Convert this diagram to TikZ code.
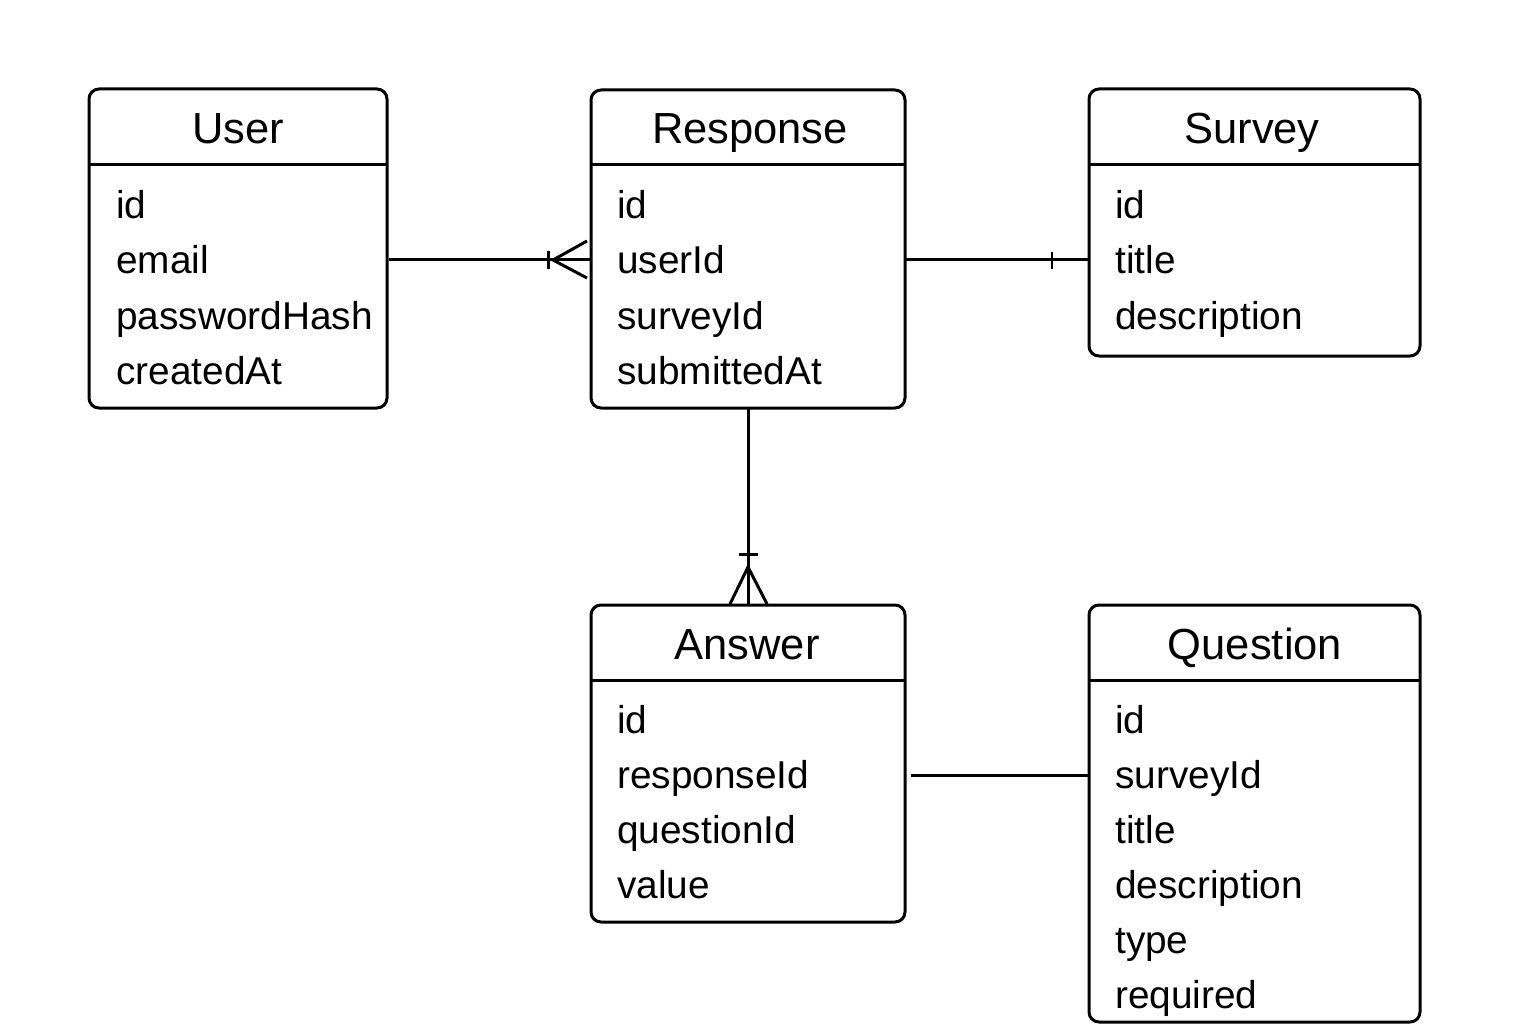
\documentclass[tikz,border=0pt]{standalone}
\usepackage{fontspec}
\setmainfont{Liberation Sans}
\begin{document}
\begin{tikzpicture}[x=1pt,y=-1pt,
  ent/.style={draw=black,line width=3pt,rounded corners=10pt},
  ttl/.style={anchor=base,font=\fontsize{43.5}{48}\selectfont,inner sep=0pt},
  attr/.style={anchor=base west,font=\fontsize{38.8}{44}\selectfont,inner sep=0pt},
  conn/.style={line width=3pt}]
\useasboundingbox (0,0) rectangle (1536,1024);
% boxes
\draw[ent] (89,89) rectangle (387,408); \draw[line width=3pt] (89,165) -- (387,165);
\draw[ent] (591,90) rectangle (905,408); \draw[line width=3pt] (591,165) -- (905,165);
\draw[ent] (1089,89) rectangle (1420,356); \draw[line width=3pt] (1089,165) -- (1420,165);
\draw[ent] (591,605) rectangle (905,922); \draw[line width=3pt] (591,680) -- (905,680);
\draw[ent] (1089,605) rectangle (1420,1022); \draw[line width=3pt] (1089,680) -- (1420,680);
% titles
\node[ttl] (tU) at (238,144) {User};
\node[ttl] (tR) at (750,144) {Response};
\node[ttl] (tS) at (1252,144) {Survey};
\node[ttl] (tA) at (747,659) {Answer};
\node[ttl] (tQ) at (1255,659) {Question};
% attributes
\foreach \t [count=\i from 0] in {id,email,passwordHash,createdAt}
  \node[attr] (u\i) at (116,219+55*\i) {\t};
\foreach \t [count=\i from 0] in {id,userId,surveyId,submittedAt}
  \node[attr] (r\i) at (617,219+55*\i) {\t};
\foreach \t [count=\i from 0] in {id,title,description}
  \node[attr] (s\i) at (1115,219+55*\i) {\t};
\foreach \t [count=\i from 0] in {id,responseId,questionId,value}
  \node[attr] (a\i) at (617,733+55*\i) {\t};
\foreach \t [count=\i from 0] in {id,surveyId,title,description,type,required}
  \node[attr] (q\i) at (1115,733+55*\i) {\t};
% connectors
\coordinate (c1a) at (389,260); \coordinate (c1b) at (590,260);
\draw[conn] (c1a) -- (c1b);
\draw[conn] (548,251) -- (548,269);
\draw[conn] (587,241) -- (553,260) -- (587,278);
\coordinate (c2a) at (906,260); \coordinate (c2b) at (1088,260);
\draw[conn] (c2a) -- (c2b);
\draw[line width=2.5pt] (1052,252) -- (1052,269);
\coordinate (c3a) at (748,409); \coordinate (c3b) at (748,604);
\draw[conn] (c3a) -- (c3b);
\draw[conn] (739,554) -- (758,554);
\draw[conn] (730,604) -- (748,567) -- (767,604);
\coordinate (c4a) at (911,775); \coordinate (c4b) at (1088,775);
\draw[conn] (c4a) -- (c4b);
\end{tikzpicture}
\end{document}
